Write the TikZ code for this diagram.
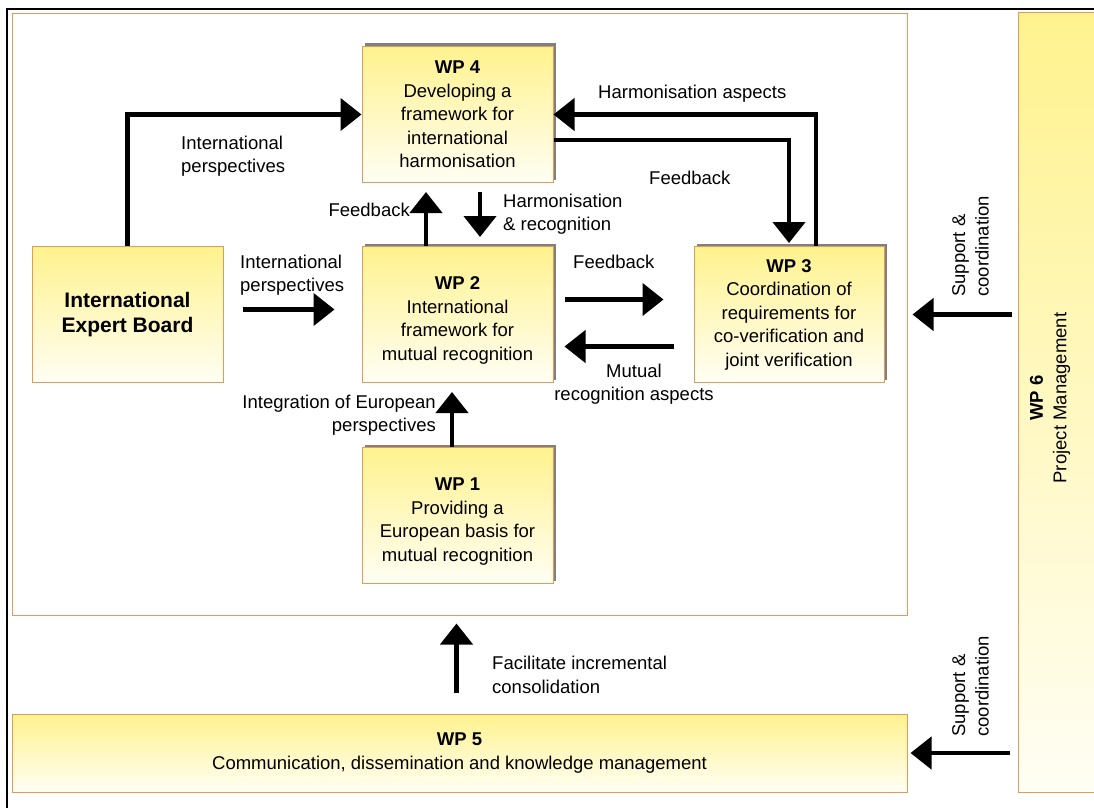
\documentclass[tikz,border=0pt]{standalone}
\usepackage{fontspec}
\setmainfont{Liberation Sans}
\usepackage{tikz}
\usetikzlibrary{arrows.meta,positioning,shadows}

\definecolor{wporange}{HTML}{E49A58}
\definecolor{wpyellow}{HTML}{FFF28E}
\definecolor{wpwhite}{HTML}{FFFEF4}
\definecolor{wpshadow}{HTML}{7F7F7F}

\newcommand{\wpfont}{\fontsize{18.5}{23.5}\selectfont}
\newcommand{\lowstrut}{\rule{0pt}{25pt}}

\tikzset{
  plainbox/.style={
    rectangle, draw=wporange, line width=1pt,
    top color=wpyellow, bottom color=wpwhite,
    minimum width=191pt, minimum height=136pt,
    inner sep=0pt, align=center, font=\wpfont
  },
  wpbox/.style={
    plainbox,
    drop shadow={shadow xshift=3pt, shadow yshift=3pt, fill=wpshadow, opacity=1}
  },
  contbox/.style={rectangle, draw=wporange, line width=1pt, fill=white, inner sep=0pt},
  flowarrow/.style={-{Triangle[length=21pt, width=32pt]}, line width=4.5pt},
  labeltext/.style={font=\wpfont, inner sep=0pt},
}

\begin{document}
\begin{tikzpicture}[x=1pt, y=-1pt]
\useasboundingbox (0,0) rectangle (1094,808);
\clip (0,0) rectangle (1094,808);

% screen frame
\draw[line width=2.5pt] (1094,9) -- (7,9) -- (7,808);

% work package area
\node[contbox, minimum width=895pt, minimum height=601pt] (cont) at (459.5,314.5) {};

% work packages
\node[wpbox] (wp4) at (457.5,114.5) {\textbf{WP 4}\\Developing a\\framework for\\international\\harmonisation};
\node[wpbox, below=63pt of wp4] (wp2) {\lowstrut\textbf{WP 2}\\International\\framework for\\mutual recognition};
\node[wpbox, below=64pt of wp2] (wp1) {\lowstrut\textbf{WP 1}\\Providing a\\European basis for\\mutual recognition};
\node[plainbox, left=138pt of wp2, font=\fontsize{21}{25}\selectfont\bfseries] (ieb) {International\\Expert Board};
\node[wpbox, right=140pt of wp2, minimum width=190pt] (wp3) {\textbf{WP 3}\\Coordination of\\requirements for\\co-verification and\\joint verification};
\node[plainbox, below=98pt of cont, minimum width=895pt, minimum height=78pt] (wp5) {\textbf{WP 5}\\Communication, dissemination and knowledge management};
\node[plainbox, minimum width=92pt, minimum height=779pt] (wp6) at (1064,402.5) {};
\node[labeltext, rotate=90, align=center] (wp6text) at (1050,398) {\textbf{WP 6}\\Project Management};

% flows
\draw[flowarrow] (ieb.north) |- (wp4.west);
\draw[flowarrow, shorten <=19pt, shorten >=27pt] ([yshift=5pt]ieb.east) -- ([yshift=5pt]wp2.west);
\draw[flowarrow, shorten >=9pt] ([xshift=-31.5pt]wp2.north) -- ([xshift=-31.5pt]wp4.south);
\draw[flowarrow, shorten <=9pt, shorten >=9pt] ([xshift=22.5pt]wp4.south) -- ([xshift=22.5pt]wp2.north);
\draw[flowarrow, shorten >=3pt] ([yshift=-25.5pt]wp4.east) -| (wp3.north);
\draw[flowarrow] ([xshift=27pt]wp3.north) |- (wp4.east);
\draw[flowarrow, shorten <=11pt, shorten >=30pt] ([yshift=15pt]wp2.east) -- ([yshift=15pt]wp3.west);
\draw[flowarrow, shorten <=20pt, shorten >=11pt] ([yshift=-32pt]wp3.west) -- ([yshift=-32pt]wp2.east);
\draw[flowarrow, shorten >=9pt] ([xshift=-5.5pt]wp1.north) -- ([xshift=-5.5pt]wp2.south);
\draw[flowarrow, shorten <=21pt, shorten >=8pt] ([xshift=-3pt]wp5.north) -- ([xshift=-3pt]wp5.north |- cont.south);
\draw[flowarrow, shorten <=6pt, shorten >=5pt] (wp6.west |- wp3.east) -- (cont.east |- wp3.east);
\draw[flowarrow, shorten <=8pt, shorten >=3pt] (wp6.west |- wp5.east) -- (wp5.east);

% flow labels
\node[labeltext, anchor=west, align=left] (lblintlup) at (181,156) {International\\perspectives};
\node[labeltext, anchor=west, align=left] (lblintlmid) at (240,275) {International\\perspectives};
\node[labeltext, anchor=east] (lblfbup) at (410,210) {Feedback};
\node[labeltext, anchor=west, align=left] (lblharmrec) at (503,214) {Harmonisation\\\& recognition};
\node[labeltext, anchor=west] (lblharmasp) at (598,94) {Harmonisation aspects};
\node[labeltext, anchor=west] (lblfbtop) at (649,178) {Feedback};
\node[labeltext, anchor=west] (lblfbmid) at (573,262) {Feedback};
\node[labeltext, align=center] (lblmutual) at (634,384) {Mutual\\recognition aspects};
\node[labeltext, anchor=east, align=right] (lblinteg) at (436,415) {Integration of European\\perspectives};
\node[labeltext, anchor=west, align=left] (lblfacil) at (492,675) {Facilitate incremental\\consolidation};
\node[labeltext, rotate=90, anchor=west, align=left] (lblsupup) at (970.5,297) {Support \&\\coordination};
\node[labeltext, rotate=90, anchor=west, align=left] (lblsuplow) at (970.5,737) {Support \&\\coordination};

\end{tikzpicture}
\end{document}
